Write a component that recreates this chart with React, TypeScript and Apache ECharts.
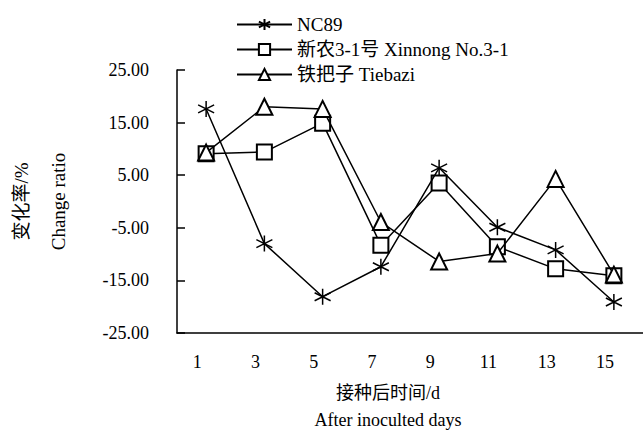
import React, { useEffect, useRef } from "react";
import * as echarts from "echarts";

const days = ["1", "3", "5", "7", "9", "11", "13", "15"];
const yTicks = [-25, -15, -5, 5, 15, 25];
const nc89 = [17.6, -8.0, -18.1, -12.4, 6.4, -4.9, -9.2, -19.1];
const xinnong = [9.1, 9.4, 14.9, -8.3, 3.5, -8.6, -12.8, -14.1];
const tiebazi = [9.3, 18.0, 17.6, -3.9, -11.4, -9.9, 4.3, -13.9];

const FONT = "Liberation Serif, Times New Roman, Noto Sans CJK SC, serif";
const ASTERISK = "path://M10,0 L10,20 M1.34,5 L18.66,15 M1.34,15 L18.66,5";

export default function App() {
  const ref = useRef<HTMLDivElement>(null);
  useEffect(() => {
    document.body.style.margin = "0";
    const chart = echarts.init(ref.current!, null, { renderer: "svg" });
    const lineStyle = { color: "#000", width: 1.5 };
    chart.setOption({
      animation: false,
      backgroundColor: "#fff",
      textStyle: { fontFamily: FONT, color: "#000" },
      legend: {
        orient: "vertical",
        left: 231,
        top: 10,
        itemWidth: 55,
        itemHeight: 14,
        itemGap: 6,
        textStyle: { fontFamily: FONT, fontSize: 19, color: "#000" },
        data: [
          { name: "NC89" },
          { name: "新农3-1号 Xinnong No.3-1" },
          { name: "铁把子 Tiebazi" },
        ],
      },
      grid: { left: 177, right: 0, top: 70, bottom: 97, outerBoundsMode: "none", containLabel: false },
      xAxis: {
        type: "category",
        data: days,
        boundaryGap: true,
        name: "接种后时间/d\nAfter inoculted days",
        nameLocation: "middle",
        nameGap: 46,
        nameTextStyle: {
          fontFamily: FONT,
          fontSize: 18,
          color: "#000",
          lineHeight: 27,
          padding: [0, 44, 0, 0],
          verticalAlign: "top",
        },
        axisLine: { onZero: false, lineStyle: { color: "#000", width: 1.5 } },
        axisTick: { inside: true, length: 8, lineStyle: { color: "#000", width: 1.5 } },
        axisLabel: {
          fontFamily: FONT,
          fontSize: 18,
          color: "#000",
          margin: 20,
          padding: [0, 18, 0, 0],
        },
        splitLine: { show: false },
      },
      yAxis: {
        type: "value",
        min: yTicks[0],
        max: yTicks[yTicks.length - 1],
        interval: 10,
        name: "变化率/%\nChange ratio",
        nameLocation: "middle",
        nameRotate: 90,
        nameGap: 100,
        nameTextStyle: { fontFamily: FONT, fontSize: 19, color: "#000", lineHeight: 37 },
        axisLine: { show: true, lineStyle: { color: "#000", width: 1.5 } },
        axisTick: { show: true, inside: true, length: 8, lineStyle: { color: "#000", width: 1.5 } },
        axisLabel: {
          fontFamily: FONT,
          fontSize: 18,
          color: "#000",
          margin: 28,
          formatter: (v: number) => v.toFixed(2),
        },
        splitLine: { show: false },
      },
      series: [
        {
          name: "NC89",
          type: "line",
          data: nc89,
          symbol: ASTERISK,
          symbolSize: 16,
          lineStyle,
          itemStyle: { color: "#000", borderColor: "#000", borderWidth: 1.5 },
          z: 3,
        },
        {
          name: "新农3-1号 Xinnong No.3-1",
          type: "line",
          data: xinnong,
          symbol: "emptyRect",
          symbolSize: 15,
          lineStyle,
          itemStyle: { color: "#000", borderColor: "#000", borderWidth: 1.8 },
          z: 2,
        },
        {
          name: "铁把子 Tiebazi",
          type: "line",
          data: tiebazi,
          symbol: "emptyTriangle",
          symbolSize: 16,
          lineStyle,
          itemStyle: { color: "#000", borderColor: "#000", borderWidth: 1.8 },
          z: 4,
        },
      ],
    });
    return () => chart.dispose();
  }, []);
  return <div ref={ref} style={{ width: 643, height: 430 }} />;
}
